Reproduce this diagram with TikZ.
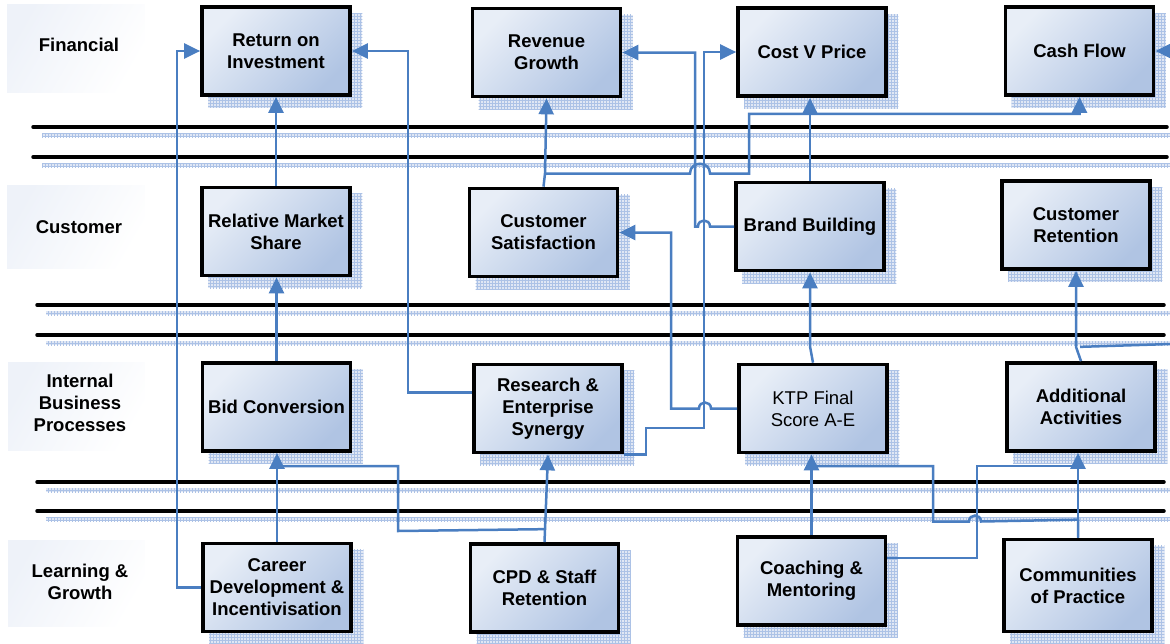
\documentclass[tikz,border=0pt]{standalone}
\usepackage{fontspec}
\setmainfont{Liberation Sans}
\usetikzlibrary{arrows.meta,patterns,calc,backgrounds}
\definecolor{boxlight}{RGB}{232,238,247}
\definecolor{boxdark}{RGB}{176,196,227}
\definecolor{connblue}{RGB}{74,126,193}
\definecolor{shadowcol}{RGB}{224,231,244}
\definecolor{hatchcol}{RGB}{172,194,230}
\definecolor{labelbg}{RGB}{238,242,249}
\newcommand\kfont{\fontsize{18.5}{22}\selectfont}
\tikzset{
  kbox/.style={draw=black, line width=3.7pt, top color=boxlight, bottom color=boxdark,
    shading angle=45, minimum width=148pt, minimum height=88pt, inner sep=0pt,
    align=center, font=\kfont\bfseries},
  lbl/.style={align=center, inner sep=0pt, font=\kfont\bfseries},
  labelshade/.style={top color=labelbg, bottom color=white, shading angle=60},
  hline/.style={draw=black, line width=3.5pt, line cap=round},
  link/.style={draw=connblue, line width=2.5pt},
  arr/.style={link, -{Triangle[length=16pt,width=15pt]}},
}
\begin{document}
\begin{tikzpicture}[x=1pt,y=-1pt]
\useasboundingbox (0,0) rectangle (1170,643);
% label backgrounds
\path[labelshade] (7,4) rectangle (145,92);
\path[labelshade] (7,185) rectangle (145,268);
\path[labelshade] (8,362) rectangle (145,450);
\path[labelshade] (8,540) rectangle (145,626);
% horizontal separators
\foreach \yy/\xs/\xe in {127/33/1167,157/33/1167,305/37/1164,335/37/1164,482/37/1164,511/37/1164} {
  \fill[shadowcol] (\xs+9,\yy+6) rectangle (1170,\yy+10);
  \path[pattern=grid,pattern color=hatchcol] (\xs+9,\yy+6) rectangle (1170,\yy+10);
  \draw[hline] (\xs,\yy) -- (\xe,\yy);
}
% lane labels
\node[lbl] (lf) at (79,45) {Financial};
\node[lbl] (lc) at (79,227) {Customer};
\node[lbl] (li) at (80,403) {Internal\\Business\\Processes};
\node[lbl] (ll) at (80,582) {Learning \&\\Growth};
% boxes
\node[kbox] (roi) at (276,51) {Return on\\Investment};
\node[kbox] (rg) at (546.5,52.5) {Revenue\\Growth};
\node[kbox] (cvp) at (812,52) {Cost V Price};
\node[kbox] (cf) at (1079.5,51) {Cash Flow};
\node[kbox] (rms) at (276,231.5) {Relative Market\\Share};
\node[kbox] (cs) at (543.5,232.5) {Customer\\Satisfaction};
\node[kbox] (bb) at (810,226.5) {Brand Building};
\node[kbox] (cr) at (1076,225) {Customer\\Retention};
\node[kbox] (bc) at (276.5,407) {Bid Conversion};
\node[kbox] (res) at (548,408.5) {Research \&\\Enterprise\\Synergy};
\node[kbox,font=\kfont] (ktp) at (813,408.5) {KTP Final\\Score A-E};
\node[kbox] (aa) at (1081,407) {Additional\\Activities};
\node[kbox] (cd) at (277,587.5) {Career\\Development \&\\Incentivisation};
\node[kbox] (cpd) at (544.5,588) {CPD \& Staff\\Retention};
\node[kbox] (cm) at (811.5,581) {Coaching \&\\Mentoring};
\node[kbox,minimum height=92pt] (cp) at (1078,585.5) {Communities\\of Practice};
% box shadows
\begin{scope}[on background layer]
\foreach \n in {roi,rg,cvp,cf,rms,cs,bb,cr,bc,res,ktp,aa,cd,cpd,cm,cp} {
  \fill[shadowcol] ($(\n.north west)+(8,8)$) rectangle ($(\n.south east)+(10.5,11)$);
  \path[pattern=grid,pattern color=hatchcol] ($(\n.north west)+(8,8)$) rectangle ($(\n.south east)+(10.5,11)$);
}
\end{scope}
% connectors
\draw[arr] (rms.north) -- (rms.north |- roi.south);
\draw[arr] (bc.north) -- (bc.north |- rms.south);
\draw[arr] (cd.north) -- (cd.north |- bc.south);
\draw[arr] (cd.west) -- ++(-24,0) |- (roi.west);
\draw[arr] ([yshift=16pt]res.west) -- ++(-64,0) |- (roi.east);
\coordinate (csj) at (545,173.5);
\draw[arr] (cs.north) -- (csj) -- (rg.south);
\draw[arr] (csj) -- (690,173.5) .. controls (690,160.5) and (710,160.5) .. (710,173.5)
  -- (749,173.5) |- ($(cf.south)+(0,17)$) -- (cf.south);
\draw[arr] (bb.west) -- (710,226.5) .. controls (710,218.5) and (698,218.5) .. (698,226.5)
  -- (695,226.5) |- (rg.east);
\draw[arr] (ktp.west) -- (711,408.5) .. controls (711,400.5) and (699,400.5) .. (699,408.5)
  -- (671,408.5) |- (cs.east);
\draw[arr] (res.south east) -- ++(22,0) |- (704,428) |- (cvp.west);
\draw[arr] (bb.north) -- (bb.north |- cvp.south);
\draw[arr] (ktp.north) -- ($(bb.south)+(0,74)$) -- (bb.south);
\draw[arr] (cm.north) -- (cm.north |- ktp.south);
\draw[arr] (cp.north) -- (cp.north |- aa.south);
\draw[arr] (aa.north) -- ($(cr.south)+(0,76)$) -- (cr.south);
\coordinate (offR) at (1171,344);
\draw[link] ($(cr.south)+(4,76)$) -- (offR);
\coordinate (offCF) at (1174,51);
\draw[arr] (offCF) -- (cf.east);
\draw[link] ([yshift=23pt]cm.east) -- ++(89.5,0) |- (cp.north |- 0,466);
\draw[link] (cp.north) -- ++(0,-18) -- (981,521.5) .. controls (981,513.5) and (969,513.5) .. (969,521.5)
  -- (933,521.5) |- (cm.north |- 0,466);
\draw[arr] (cpd.north) -- (res.south);
\draw[link] ($(cpd.north)+(0.5,-13)$) -- (398,531) |- (cd.north |- 0,466);
\end{tikzpicture}
\end{document}
